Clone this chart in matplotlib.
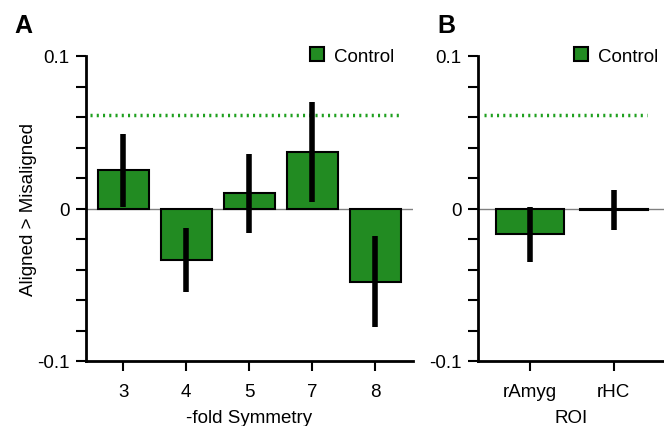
import matplotlib
matplotlib.use('Agg')
import numpy as np
from matplotlib import pyplot as plt
from matplotlib.patches import Patch

plt.rcParams['font.family'] = ['Liberation Sans', 'DejaVu Sans']

# panel A: -fold symmetry
sym_labels = ['3', '4', '5', '7', '8']
sym_vals = [0.025, -0.034, 0.010, 0.037, -0.048]
sym_err = [0.024, 0.021, 0.026, 0.033, 0.030]

# panel B: ROI
roi_labels = ['rAmyg', 'rHC']
roi_vals = [-0.017, -0.001]
roi_err = [0.018, 0.013]

threshold = 0.061
green = '#228b22'

W, H = 664, 427
fig = plt.figure(figsize=(W / 100, H / 100), dpi=100)


def px(x0, y0, x1, y1):
    return [x0 / W, 1 - y1 / H, (x1 - x0) / W, (y1 - y0) / H]


axA = fig.add_axes(px(86, 57, 413, 362))
axB = fig.add_axes(px(478, 57, 664, 362))


def draw(ax, labels, vals, err, xlim, leg_x):
    x = np.arange(len(labels))
    ax.axhline(0, color='#808080', lw=1, zorder=1)
    ax.bar(x, vals, width=0.81, color=green, edgecolor='black', lw=1.5, zorder=2)
    ax.errorbar(x, vals, yerr=err, fmt='none', ecolor='black', elinewidth=4, capsize=0, zorder=3)
    ax.plot([xlim[0] + 0.07, xlim[1] - 0.2], [threshold, threshold], ls=(0, (0.6, 1.2)),
            color='#1fa01f', lw=2.5, zorder=1)
    ax.set_xlim(*xlim)
    ax.set_ylim(-0.1, 0.1)
    ax.set_xticks(x)
    ax.set_xticklabels(labels)
    ax.set_yticks(np.arange(-0.1, 0.1001, 0.02))
    ax.set_yticklabels(['-0.1', '', '', '', '', '0', '', '', '', '', '0.1'])
    for s in ['top', 'right']:
        ax.spines[s].set_visible(False)
    for s in ['left', 'bottom']:
        ax.spines[s].set_linewidth(2)
    ax.tick_params(axis='both', direction='out', length=7, width=1.5, labelsize=13.5)
    ax.tick_params(axis='x', pad=9)
    ax.tick_params(axis='y', pad=5)
    ax.legend(handles=[Patch(facecolor=green, edgecolor='black', lw=1.5, label='Control')],
              loc='center left', bbox_to_anchor=(leg_x, 1.0), frameon=False, fontsize=13.5,
              handlelength=0.72, handleheight=0.72, handletextpad=0.55,
              borderpad=0, borderaxespad=0)
    ax.xaxis.set_label_coords(0.5, -0.158)


draw(axA, sym_labels, sym_vals, sym_err, (-0.59, 4.6), (310 - 86) / 327)
draw(axB, roi_labels, roi_vals, roi_err, (-0.62, 1.6), (574 - 478) / 186)

axA.set_xlabel('-fold Symmetry', fontsize=13.5, va='top')
axB.set_xlabel('ROI', fontsize=13.5, va='top')
axA.set_ylabel('Aligned > Misaligned', fontsize=13.5, labelpad=0)

fig.text(14 / W, 1 - 33 / H, 'A', fontsize=18, fontweight='bold')
fig.text(437 / W, 1 - 33 / H, 'B', fontsize=18, fontweight='bold')

fig.savefig('out.png', dpi=100)
